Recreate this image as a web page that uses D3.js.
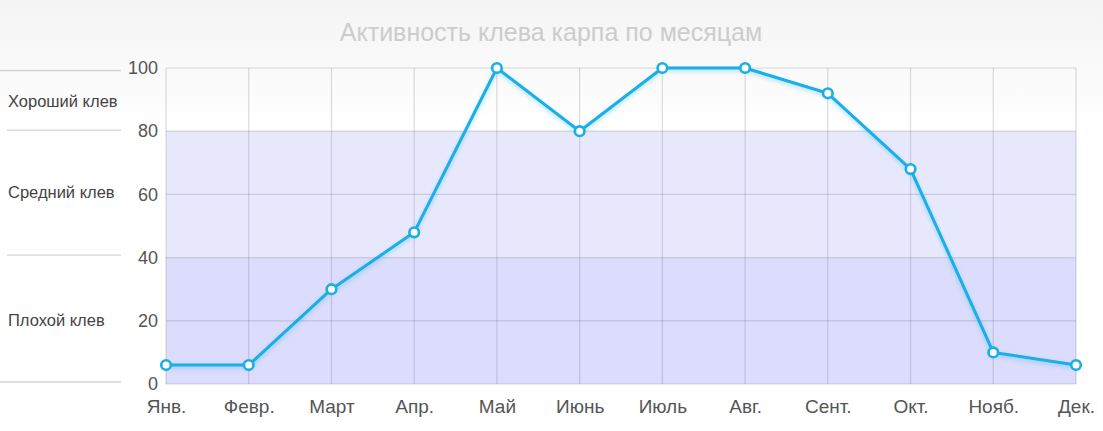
<!DOCTYPE html>
<html><head><meta charset="utf-8">
<script src="https://cdn.jsdelivr.net/npm/d3@7"></script>
<style>html,body{margin:0;padding:0;background:#fff;}svg{display:block;font-family:"Liberation Sans",Arial,sans-serif;}</style>
</head><body>
<svg id="c" width="1103" height="431"></svg>
<script>
const months = ["Янв.","Февр.","Март","Апр.","Май","Июнь","Июль","Авг.","Сент.","Окт.","Нояб.","Дек."];
const activity = [6,6,30,48,100,80,100,100,92,68,10,6];
const yTicks = [0,20,40,60,80,100];
const bandEdges = [0,40,80,100];
const bands = [
  {label:"Хороший клев", from:80, to:100, color:"rgba(255,255,255,0)"},
  {label:"Средний клев", from:40, to:80, color:"#e8e8fd"},
  {label:"Плохой клев", from:0, to:40, color:"#dcdcfc"}
];
const title = "Активность клева карпа по месяцам";

const svg = d3.select("#c");
const W=1103,H=431;
const defs = svg.append("defs");
const bg = defs.append("linearGradient").attr("id","bg").attr("x1",0).attr("y1",0).attr("x2",0).attr("y2",1);
bg.append("stop").attr("offset","0%").attr("stop-color","#f4f4f4");
bg.append("stop").attr("offset","30%").attr("stop-color","#ffffff");
bg.append("stop").attr("offset","100%").attr("stop-color","#ffffff");
const f = defs.append("filter").attr("id","glow").attr("x","-10%").attr("y","-10%").attr("width","120%").attr("height","130%");
f.append("feGaussianBlur").attr("in","SourceAlpha").attr("stdDeviation",2).attr("result","b");
f.append("feOffset").attr("in","b").attr("dy",2).attr("result","o");
f.append("feFlood").attr("flood-color","#1ab0e8").attr("flood-opacity",0.35);
f.append("feComposite").attr("in2","o").attr("operator","in").attr("result","s");
const m = f.append("feMerge"); m.append("feMergeNode").attr("in","s"); m.append("feMergeNode").attr("in","SourceGraphic");

svg.append("rect").attr("width",W).attr("height",H).attr("fill","url(#bg)");

const x = d3.scalePoint().domain(months).range([166,1076]);
const y = d3.scaleLinear().domain([0,100]).range([384,68]);

// bands
svg.selectAll("rect.band").data(bands).join("rect").attr("class","band")
  .attr("x",166).attr("width",1076-166)
  .attr("y",d=>y(d.to)).attr("height",d=>y(d.from)-y(d.to)).attr("fill",d=>d.color);

// grid
const g = svg.append("g");
g.selectAll("line.h").data(yTicks).join("line")
  .attr("x1",166).attr("x2",1076).attr("y1",d=>y(d)).attr("y2",d=>y(d))
  .attr("stroke","rgba(90,90,120,0.22)").attr("stroke-width",1.2);
g.selectAll("line.v").data(months).join("line")
  .attr("x1",d=>x(d)).attr("x2",d=>x(d)).attr("y1",y(100)).attr("y2",y(0))
  .attr("stroke","rgba(90,90,120,0.22)").attr("stroke-width",1.2);

// y axis labels
const ya = svg.append("g").attr("transform","translate(158,0)").call(d3.axisLeft(y).tickValues(yTicks).tickSize(0).tickPadding(0));
ya.select(".domain").remove();
ya.selectAll("text").attr("font-size",18).attr("fill","#555").attr("font-family","Liberation Sans, Arial, sans-serif");

// x axis labels
const xa = svg.append("g").attr("transform","translate(0,399)").call(d3.axisBottom(x).tickSize(0).tickPadding(0));
xa.select(".domain").remove();
xa.selectAll("text").attr("font-size",19).attr("fill","#555").attr("font-family","Liberation Sans, Arial, sans-serif");

// band labels on left
const offs = {0:-2, 40:-2.5, 80:-1, 100:2.5};
const bl = svg.append("g");
bl.selectAll("line").data(bandEdges).join("line")
  .attr("x1",d=>(d===0||d===100)?0:7).attr("x2",121)
  .attr("y1",d=>y(d)+offs[d]).attr("y2",d=>y(d)+offs[d])
  .attr("stroke","#d4d4d4").attr("stroke-width",1.3);
const loff = {80:1, 40:-2, 0:-1};
bl.selectAll("text").data(bands).join("text")
  .attr("x",8).attr("y",d=>(y(d.from)+y(d.to))/2+6+loff[d.from])
  .attr("font-size",16.5).attr("fill","#444").text(d=>d.label);

// title
svg.append("text").attr("x",551).attr("y",41).attr("text-anchor","middle")
  .attr("font-size",25).attr("fill","#cccccc").text(title);

// line
const line = d3.line().x((d,i)=>x(months[i])).y(d=>y(d));
svg.append("path").datum(activity).attr("d",line).attr("fill","none")
  .attr("stroke","#1aaee6").attr("stroke-width",3).attr("stroke-linejoin","round").attr("filter","url(#glow)");
svg.selectAll("circle.pt").data(activity).join("circle").attr("class","pt")
  .attr("cx",(d,i)=>x(months[i])).attr("cy",d=>y(d)).attr("r",4.8)
  .attr("fill","#fff").attr("stroke","#1aaee6").attr("stroke-width",2.6);
</script>
</body></html>
